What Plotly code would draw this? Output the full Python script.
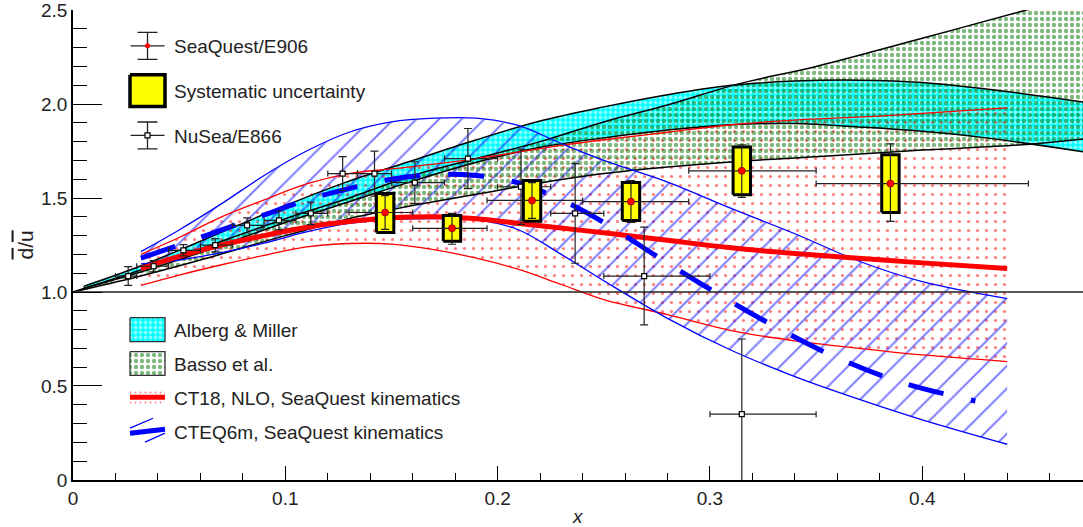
import plotly.graph_objects as go

FONT = "Liberation Sans, Arial, Helvetica, sans-serif"

# ---------------- data ----------------
# SeaQuest / E906 (stat. errors + systematic boxes)
sq_x = [0.147, 0.1785, 0.2162, 0.2628, 0.315, 0.385]
sq_y = [1.423, 1.339, 1.487, 1.481, 1.645, 1.577]
sq_xlo = [0.13, 0.16, 0.195, 0.24, 0.29, 0.35]
sq_xhi = [0.16, 0.195, 0.24, 0.29, 0.35, 0.45]
sq_stat_up = [0.090, 0.079, 0.095, 0.112, 0.138, 0.211]
sq_stat_dn = [0.090, 0.085, 0.095, 0.111, 0.142, 0.201]
sq_sys_lo = [1.317, 1.270, 1.376, 1.381, 1.518, 1.423]
sq_sys_hi = [1.524, 1.407, 1.593, 1.582, 1.772, 1.730]

# NuSea / E866
e866_x = [0.026, 0.038, 0.052, 0.067, 0.082, 0.097, 0.112, 0.127, 0.142, 0.161, 0.186, 0.211, 0.2365, 0.269, 0.315]
e866_y = [1.085, 1.137, 1.222, 1.249, 1.354, 1.381, 1.418, 1.63, 1.63, 1.582, 1.71, 1.56, 1.418, 1.085, 0.35]
e866_err = [0.05, 0.03, 0.03, 0.035, 0.04, 0.05, 0.06, 0.09, 0.12, 0.11, 0.16, 0.20, 0.265, 0.26, 0.40]
e866_xlo = [0.02, 0.03, 0.045, 0.06, 0.075, 0.09, 0.105, 0.12, 0.134, 0.15, 0.175, 0.2, 0.225, 0.25, 0.30]
e866_xhi = [0.03, 0.045, 0.06, 0.075, 0.09, 0.105, 0.12, 0.134, 0.15, 0.175, 0.2, 0.225, 0.25, 0.30, 0.35]

# CT18 NLO band
ct18_x = [0.032, 0.05, 0.07, 0.09, 0.11, 0.13, 0.15, 0.17, 0.19, 0.21, 0.23, 0.25, 0.28, 0.31, 0.34, 0.37, 0.40, 0.44]
ct18_c = [1.125, 1.19, 1.25, 1.30, 1.345, 1.375, 1.395, 1.40, 1.39, 1.365, 1.34, 1.315, 1.275, 1.235, 1.205, 1.18, 1.155, 1.125]
ct18_up = [1.2, 1.29, 1.40, 1.49, 1.575, 1.63, 1.655, 1.68, 1.71, 1.745, 1.78, 1.81, 1.85, 1.89, 1.915, 1.93, 1.95, 1.98]
ct18_lo = [1.035, 1.09, 1.145, 1.195, 1.24, 1.258, 1.255, 1.225, 1.18, 1.12, 1.04, 0.96, 0.88, 0.795, 0.74, 0.70, 0.665, 0.63]

# CTEQ6m band
cteq_x = [0.032, 0.05, 0.07, 0.09, 0.11, 0.13, 0.15, 0.17, 0.19, 0.21, 0.23, 0.25, 0.28, 0.31, 0.34, 0.37, 0.40, 0.44]
cteq_up = [1.215, 1.33, 1.47, 1.62, 1.75, 1.85, 1.905, 1.925, 1.925, 1.885, 1.79, 1.70, 1.585, 1.445, 1.31, 1.165, 1.055, 0.965]
cteq_lo = [1.15, 1.17, 1.21, 1.26, 1.32, 1.365, 1.385, 1.39, 1.385, 1.33, 1.20, 1.06, 0.86, 0.69, 0.55, 0.43, 0.32, 0.19]
cteq_cx = [0.032, 0.05, 0.07, 0.09, 0.11, 0.13, 0.15, 0.17, 0.19, 0.21, 0.23, 0.25, 0.275, 0.30, 0.33, 0.36, 0.39, 0.425]
cteq_c = [1.18, 1.25, 1.33, 1.41, 1.49, 1.55, 1.60, 1.625, 1.62, 1.58, 1.49, 1.37, 1.19, 1.015, 0.82, 0.65, 0.52, 0.42]

# Alberg & Miller band
am_x = [0.005, 0.03, 0.06, 0.1, 0.13, 0.16, 0.19, 0.22, 0.25, 0.28, 0.31, 0.34, 0.37, 0.40, 0.43, 0.476]
am_up = [1.03, 1.13, 1.27, 1.46, 1.59, 1.70, 1.81, 1.91, 1.985, 2.05, 2.10, 2.122, 2.127, 2.115, 2.08, 2.01]
am_lo = [1.02, 1.10, 1.21, 1.37, 1.48, 1.59, 1.69, 1.77, 1.82, 1.862, 1.89, 1.896, 1.878, 1.855, 1.82, 1.746]

# Basso et al. band
bs_x = [0.0, 0.03, 0.06, 0.1, 0.13, 0.16, 0.19, 0.22, 0.25, 0.28, 0.313, 0.35, 0.40, 0.449, 0.476]
bs_up = [1.0, 1.11, 1.23, 1.39, 1.50, 1.62, 1.71, 1.80, 1.905, 1.995, 2.106, 2.20, 2.35, 2.5, 2.58]
bs_lo = [1.0, 1.08, 1.17, 1.30, 1.39, 1.46, 1.52, 1.58, 1.63, 1.665, 1.695, 1.72, 1.755, 1.785, 1.815]

x_ticks = [0, 0.1, 0.2, 0.3, 0.4]
x_ticktext = ["0", "0.1", "0.2", "0.3", "0.4"]
y_ticks = [0, 0.5, 1.0, 1.5, 2.0, 2.5]
y_ticktext = ["0", "0.5", "1.0", "1.5", "2.0", "2.5"]

X_RANGE = [0, 0.4757]
Y_RANGE = [-0.0002, 2.5004]
UNITY = 1.0
BOX_HALF_W = 0.0041

legend_top = ["SeaQuest/E906", "Systematic uncertainty", "NuSea/E866"]
legend_bottom = ["Alberg &amp; Miller", "Basso et al.", "CT18, NLO, SeaQuest kinematics", "CTEQ6m, SeaQuest kinematics"]


def band(xs, lo, hi):
    return list(xs) + list(xs)[::-1], list(hi) + list(lo)[::-1]


CLEAR = "rgba(0,0,0,0)"
CYAN_PAT = dict(shape=".", fgcolor="white", bgcolor="#00ffff", size=5, solidity=0.45)
GREEN_PAT = dict(shape=".", fgcolor="#007000", bgcolor=CLEAR, size=6, solidity=0.42)
RED_PAT = dict(shape=".", fgcolor="#ff0000", bgcolor=CLEAR, size=9, solidity=0.1)
BLUE_PAT = dict(shape="/", fgcolor="#0000ff", bgcolor=CLEAR, size=16, solidity=0.13)

fig = go.Figure()

# ---- bands ----
bx, by = band(am_x, am_lo, am_up)
fig.add_trace(go.Scatter(x=bx, y=by, fill="toself", mode="none", fillcolor="#00ffff", fillpattern=CYAN_PAT))
bx, by = band(ct18_x, ct18_lo, ct18_up)
fig.add_trace(go.Scatter(x=bx, y=by, fill="toself", mode="none", fillcolor=CLEAR, fillpattern=RED_PAT))
bx, by = band(cteq_x, cteq_lo, cteq_up)
fig.add_trace(go.Scatter(x=bx, y=by, fill="toself", mode="none", fillcolor=CLEAR, fillpattern=BLUE_PAT))
bx, by = band(bs_x, bs_lo, bs_up)
fig.add_trace(go.Scatter(x=bx, y=by, fill="toself", mode="none", fillcolor=CLEAR, fillpattern=GREEN_PAT))

# ---- band edges ----
for xs, ys in [(am_x, am_up), (am_x, am_lo), (bs_x, bs_up), (bs_x, bs_lo)]:
    fig.add_trace(go.Scatter(x=xs, y=ys, mode="lines", line=dict(color="black", width=1.5, shape="spline")))
for ys in (ct18_up, ct18_lo):
    fig.add_trace(go.Scatter(x=ct18_x, y=ys, mode="lines", line=dict(color="#ff0000", width=1.3, shape="spline")))
for ys in (cteq_up, cteq_lo):
    fig.add_trace(go.Scatter(x=cteq_x, y=ys, mode="lines", line=dict(color="#0000ff", width=1.3, shape="spline")))

fig.add_trace(go.Scatter(x=ct18_x, y=ct18_c, mode="lines", line=dict(color="#ff0000", width=5, shape="spline")))
fig.add_trace(go.Scatter(x=cteq_cx, y=cteq_c, mode="lines",
                         line=dict(color="#0000ff", width=5, dash="36px,28px", shape="spline")))

# unity line
fig.add_trace(go.Scatter(x=X_RANGE, y=[UNITY, UNITY], mode="lines", line=dict(color="#222", width=1.3)))

# ---- E866 ----
fig.add_trace(go.Scatter(
    x=e866_x, y=e866_y, mode="markers",
    marker=dict(symbol="square", size=5, color="white", line=dict(color="black", width=1.2)),
    error_x=dict(type="data", symmetric=False,
                 array=[h - x for h, x in zip(e866_xhi, e866_x)],
                 arrayminus=[x - l for l, x in zip(e866_xlo, e866_x)],
                 thickness=1.2, width=3, color="#222"),
    error_y=dict(type="data", array=e866_err, thickness=1.2, width=4, color="#222")))

# ---- SeaQuest systematic boxes ----
boxx, boxy = [], []
for x, lo, hi in zip(sq_x, sq_sys_lo, sq_sys_hi):
    boxx += [x - BOX_HALF_W, x + BOX_HALF_W, x + BOX_HALF_W, x - BOX_HALF_W, x - BOX_HALF_W, None]
    boxy += [lo, lo, hi, hi, lo, None]
fig.add_trace(go.Scatter(x=boxx, y=boxy, mode="lines", fill="toself", fillcolor="#ffff00",
                         line=dict(color="black", width=3)))

fig.add_trace(go.Scatter(
    x=sq_x, y=sq_y, mode="markers",
    marker=dict(symbol="circle", size=7, color="#ff0000", line=dict(color="#8b0000", width=0.8)),
    error_x=dict(type="data", symmetric=False,
                 array=[h - x for h, x in zip(sq_xhi, sq_x)],
                 arrayminus=[x - l for l, x in zip(sq_xlo, sq_x)],
                 thickness=1.2, width=3, color="#222"),
    error_y=dict(type="data", symmetric=False, array=sq_stat_up, arrayminus=sq_stat_dn,
                 thickness=1.2, width=4, color="#222")))

# ---- legend keys (pixel-like overlay axes) ----
L = dict(xaxis="x2", yaxis="y2")
KX0, KX1, KXC = 130, 165, 147.5
top_y = [44, 89, 134]
bot_y = [329, 363, 397, 431]

fig.add_trace(go.Scatter(x=[KXC], y=[top_y[0]], mode="markers",
                         marker=dict(size=5, color="#ff0000"),
                         error_x=dict(type="constant", value=17, width=0, thickness=1.3, color="#222"),
                         error_y=dict(type="constant", value=13.5, width=10, thickness=1.3, color="#222"), **L))
fig.add_trace(go.Scatter(x=[KX0, KX1, KX1, KX0, KX0], y=[top_y[1] - 16, top_y[1] - 16, top_y[1] + 16, top_y[1] + 16, top_y[1] - 16],
                         mode="lines", fill="toself", fillcolor="#ffff00", line=dict(color="black", width=3.5), **L))
fig.add_trace(go.Scatter(x=[KXC], y=[top_y[2]], mode="markers",
                         marker=dict(symbol="square", size=5, color="white", line=dict(color="black", width=1.2)),
                         error_x=dict(type="constant", value=17, width=0, thickness=1.3, color="#222"),
                         error_y=dict(type="constant", value=13.5, width=10, thickness=1.3, color="#222"), **L))


def rect(yc, h):
    return [KX0, KX1, KX1, KX0, KX0], [yc - h, yc - h, yc + h, yc + h, yc - h]


rx, ry = rect(bot_y[0], 12)
fig.add_trace(go.Scatter(x=rx, y=ry, mode="lines", fill="toself", fillcolor="#00ffff",
                         fillpattern=CYAN_PAT, line=dict(color="#333", width=1.3), **L))
rx, ry = rect(bot_y[1], 12)
fig.add_trace(go.Scatter(x=rx, y=ry, mode="lines", fill="toself", fillcolor=CLEAR,
                         fillpattern=GREEN_PAT, line=dict(color="#333", width=1.3), **L))
rx, ry = rect(bot_y[2], 8)
fig.add_trace(go.Scatter(x=rx, y=ry, mode="none", fill="toself", fillcolor=CLEAR,
                         fillpattern=dict(shape=".", fgcolor="#ff0000", bgcolor=CLEAR, size=5, solidity=0.12), **L))
fig.add_trace(go.Scatter(x=[KX0, KX1], y=[bot_y[2], bot_y[2]], mode="lines",
                         line=dict(color="#ff0000", width=5), **L))
fig.add_trace(go.Scatter(x=[KX0, KX1], y=[bot_y[3] + 2, bot_y[3] - 2], mode="lines",
                         line=dict(color="#0000ff", width=5), **L))
fig.add_trace(go.Scatter(x=[KX0, 153, None, 145, KX1], y=[bot_y[3] - 3, bot_y[3] - 13, None, bot_y[3] + 11, bot_y[3] + 2],
                         mode="lines", line=dict(color="#0000ff", width=1.3), **L))

ann = []
for txt, yc in zip(legend_top + legend_bottom, top_y + bot_y):
    ann.append(dict(x=172, y=yc + 1, xref="x2", yref="y2", text=txt, showarrow=False,
                    xanchor="left", yanchor="middle", font=dict(size=19, color="#222", family=FONT)))
ann.append(dict(x=0.5, y=-0.077, xref="paper", yref="paper", text="<i>x</i>", showarrow=False,
                xanchor="center", yanchor="middle", font=dict(size=19, color="#222", family=FONT)))
ann.append(dict(x=-0.048, y=0.5, xref="paper", yref="paper",
                text="<span style='text-decoration:overline'>d</span>/<span style='text-decoration:overline'>u</span>",
                showarrow=False, textangle=-90, xanchor="center", yanchor="middle",
                font=dict(size=21, color="#222", family=FONT)))

fig.update_layout(
    width=1083, height=527, margin=dict(l=73, r=0, t=8, b=47),
    paper_bgcolor="white", plot_bgcolor="white", showlegend=False,
    font=dict(family=FONT, size=19, color="#222"),
    annotations=ann,
    xaxis=dict(range=X_RANGE, showgrid=False, zeroline=False, showline=True, linecolor="black",
               linewidth=1.5, ticks="inside", ticklen=14, tickwidth=1.3, tickcolor="black",
               tickvals=x_ticks, ticktext=x_ticktext, tickfont=dict(size=19, color="#222"),
               ticklabeloverflow="allow", ticklabelstandoff=0,
               minor=dict(ticks="inside", ticklen=7, dtick=0.02, tick0=0, tickcolor="black", tickwidth=1.3,
                          showgrid=False)),
    yaxis=dict(range=Y_RANGE, showgrid=False, zeroline=False, showline=True, linecolor="black",
               linewidth=1.5, ticks="inside", ticklen=29, tickwidth=1.3, tickcolor="black",
               tickvals=y_ticks, ticktext=y_ticktext, tickfont=dict(size=19, color="#222"),
               ticklabeloverflow="allow",
               minor=dict(ticks="inside", ticklen=14, dtick=0.1, tick0=0, tickcolor="black", tickwidth=1.3,
                          showgrid=False)),
    xaxis2=dict(overlaying="x", range=[73, 1083], visible=False, fixedrange=True),
    yaxis2=dict(overlaying="y", range=[480, 8], visible=False, fixedrange=True),
)

fig.write_html("out.html")
